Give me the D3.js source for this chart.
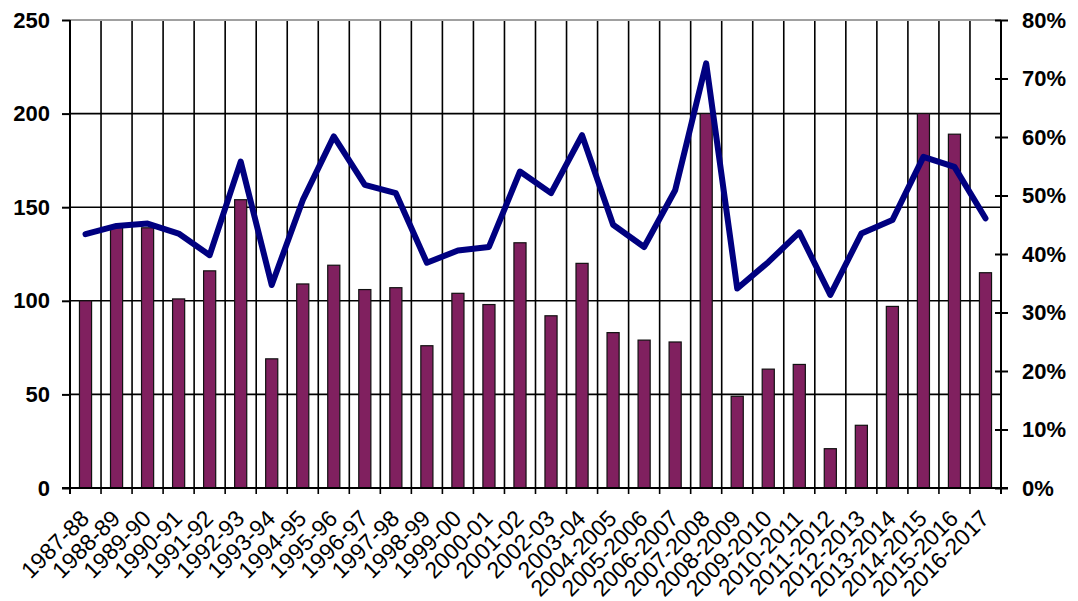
<!DOCTYPE html>
<html>
<head>
<meta charset="utf-8">
<script src="https://cdnjs.cloudflare.com/ajax/libs/d3/7.8.5/d3.min.js"></script>
<style>
  body { margin: 0; background: #fff; }
  svg { display: block; }
</style>
</head>
<body>
<div id="chart"></div>
<script>
var years = ["1987-88", "1988-89", "1989-90", "1990-91", "1991-92", "1992-93", "1993-94",
  "1994-95", "1995-96", "1996-97", "1997-98", "1998-99", "1999-00", "2000-01", "2001-02",
  "2002-03", "2003-04", "2004-2005", "2005-2006", "2006-2007", "2007-2008", "2008-2009",
  "2009-2010", "2010-2011", "2011-2012", "2012-2013", "2013-2014", "2014-2015", "2015-2016",
  "2016-2017"];

var barValues = [100, 140, 139, 101, 116, 154, 69, 109, 119, 106, 107, 76, 104, 98, 131,
  92, 120, 83, 79, 78, 200, 49, 63.5, 66, 21, 33.5, 97, 200, 189, 115];

var lineValues = [43.4, 44.8, 45.2, 43.5, 39.8, 55.8, 34.7, 49.2, 60.1, 51.8, 50.4, 38.5,
  40.6, 41.2, 54.1, 50.4, 60.3, 45.0, 41.2, 50.9, 72.6, 34.1, 38.6, 43.7, 33.0, 43.5,
  45.8, 56.6, 54.9, 46.1];

var leftTicks = [0, 50, 100, 150, 200, 250];
var rightTicks = [0, 10, 20, 30, 40, 50, 60, 70, 80];

var margin = {top: 20, right: 77, bottom: 113, left: 70},
    width = 1078 - margin.left - margin.right,
    height = 601 - margin.top - margin.bottom;

var svg = d3.select("#chart")
  .append("svg")
    .attr("width", 1078)
    .attr("height", 601)
  .append("g")
    .attr("transform", "translate(" + margin.left + "," + margin.top + ")");

var x = d3.scaleBand()
  .domain(years)
  .range([0, width]);

var y = d3.scaleLinear()
  .domain([0, 250])
  .range([height, 0]);

var y2 = d3.scaleLinear()
  .domain([0, 80])
  .range([height, 0]);

// horizontal gridlines
svg.append("g")
  .selectAll("line")
  .data([50, 100, 150, 200])
  .enter()
  .append("line")
    .attr("x1", 0)
    .attr("x2", width)
    .attr("y1", function(d) { return y(d); })
    .attr("y2", function(d) { return y(d); })
    .attr("stroke", "#000")
    .attr("stroke-width", 1.6);

// vertical gridlines at category boundaries
svg.append("g")
  .selectAll("line")
  .data(years.slice(1))
  .enter()
  .append("line")
    .attr("x1", function(d) { return x(d); })
    .attr("x2", function(d) { return x(d); })
    .attr("y1", 0)
    .attr("y2", height + 6)
    .attr("stroke", "#000")
    .attr("stroke-width", 1.6);

// top border
svg.append("line")
  .attr("x1", 0).attr("x2", width)
  .attr("y1", 0).attr("y2", 0)
  .attr("stroke", "#a0a0a0")
  .attr("stroke-width", 2);

// bars
var barW = x.bandwidth() * 0.39;
svg.append("g")
  .selectAll("rect")
  .data(years)
  .enter()
  .append("rect")
    .attr("x", function(d) { return x(d) + (x.bandwidth() - barW) / 2; })
    .attr("y", function(d, i) { return y(barValues[i]); })
    .attr("width", barW)
    .attr("height", function(d, i) { return height - y(barValues[i]); })
    .attr("fill", "#80205f")
    .attr("stroke", "#111")
    .attr("stroke-width", 1.2);

// line
var line = d3.line()
  .x(function(d, i) { return x(years[i]) + x.bandwidth() / 2; })
  .y(function(d) { return y2(d); });

svg.append("path")
  .datum(lineValues)
  .attr("d", line)
  .attr("fill", "none")
  .attr("stroke", "#000080")
  .attr("stroke-width", 6)
  .attr("stroke-linejoin", "round")
  .attr("stroke-linecap", "round");

// left axis
var yAxis = svg.append("g")
  .call(d3.axisLeft(y).tickValues(leftTicks).tickSize(8).tickPadding(12));
yAxis.select(".domain").attr("stroke-width", 2).attr("d", "M0,0V" + height);
yAxis.selectAll(".tick line").attr("stroke-width", 2);
yAxis.selectAll("text")
  .style("font-family", "Liberation Sans, Arial, sans-serif")
  .style("font-weight", "bold")
  .style("font-size", "22px")
  .attr("fill", "#000");

// right axis
var y2Axis = svg.append("g")
  .attr("transform", "translate(" + width + ",0)")
  .call(d3.axisRight(y2).tickValues(rightTicks).tickSize(7).tickPadding(14)
    .tickFormat(function(d) { return d + "%"; }));
y2Axis.select(".domain").attr("stroke-width", 2).attr("d", "M0,0V" + height);
y2Axis.selectAll(".tick line").attr("x1", -6).attr("stroke-width", 2);
y2Axis.selectAll("text")
  .style("font-family", "Liberation Sans, Arial, sans-serif")
  .style("font-weight", "bold")
  .style("font-size", "22px")
  .attr("fill", "#000");

// bottom axis
svg.append("line")
  .attr("x1", -8).attr("x2", width + 7)
  .attr("y1", height).attr("y2", height)
  .attr("stroke", "#000")
  .attr("stroke-width", 2);

svg.append("g")
  .selectAll("line")
  .data([0, width])
  .enter()
  .append("line")
    .attr("x1", function(d) { return d; })
    .attr("x2", function(d) { return d; })
    .attr("y1", height - 5)
    .attr("y2", height + 6)
    .attr("stroke", "#000")
    .attr("stroke-width", 2);

svg.append("g")
  .selectAll("text")
  .data(years)
  .enter()
  .append("text")
    .attr("transform", function(d) {
      return "translate(" + (x(d) + x.bandwidth() / 2 + 5) + "," + (height + 32) + ") rotate(-45)";
    })
    .attr("text-anchor", "end")
    .style("font-family", "Liberation Sans, Arial, sans-serif")
    .style("font-size", "23px")
    .attr("fill", "#000")
    .text(function(d) { return d; });
</script>
</body>
</html>
